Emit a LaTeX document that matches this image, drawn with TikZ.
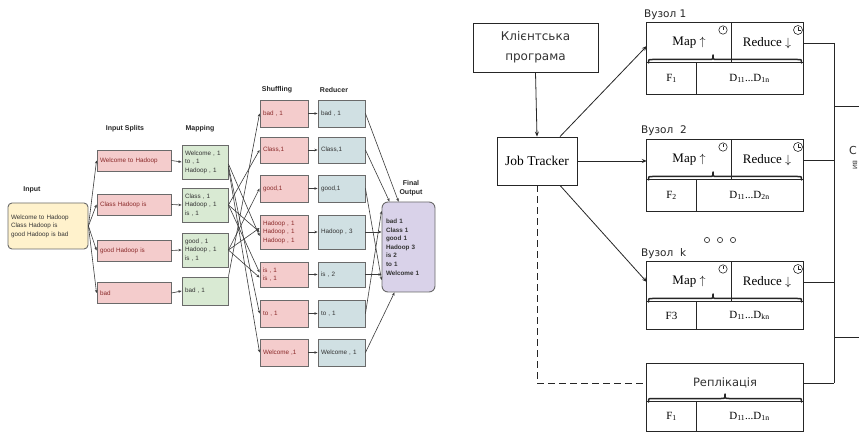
\documentclass[tikz,border=0pt]{standalone}
\usepackage{fontspec}
\setmainfont{Liberation Serif}
\newfontfamily\arialf{Liberation Sans}
\newfontfamily\dvs{DejaVu Sans}
\usetikzlibrary{arrows.meta,calc}

\definecolor{splitfill}{HTML}{F4CCCC}
\definecolor{mapfill}{HTML}{D9EAD3}
\definecolor{redfill}{HTML}{D0E0E3}
\definecolor{infill}{HTML}{FFF2CC}
\definecolor{outfill}{HTML}{D9D2E9}
\definecolor{boxline}{HTML}{6A6A6A}
\definecolor{linegray}{HTML}{3C3C3C}
\definecolor{redtext}{HTML}{8A2A2A}
\definecolor{graytext}{HTML}{333333}

\tikzset{
  lbox/.style={draw=boxline, line width=0.9pt, inner sep=1pt, align=left,
    font=\arialf\fontsize{6.3}{8.6}\selectfont, anchor=center},
  splitbox/.style={lbox, fill=splitfill, text=redtext, minimum width=74pt,
    minimum height=21pt, text width=68pt},
  mapbox/.style={lbox, fill=mapfill, text=graytext, minimum width=46pt,
    text width=40pt},
  shufbox/.style={lbox, fill=splitfill, text=redtext, minimum width=48pt,
    text width=42pt},
  redbox/.style={lbox, fill=redfill, text=graytext, minimum width=47pt,
    text width=41pt},
  steplabel/.style={font=\arialf\bfseries\fontsize{7}{8.5}\selectfont, text=black!85, align=center},
  conn/.style={draw=linegray, line width=0.6pt, -{Stealth[length=3.2pt,width=2.6pt]}},
  rline/.style={draw=black!85, line width=0.8pt},
  rarrow/.style={rline, -{Stealth[length=5pt,width=4pt]}},
  cellt/.style={inner sep=0pt, font=\fontsize{13}{15}\selectfont},
  cellb/.style={inner sep=0pt, font=\fontsize{11}{13}\selectfont},
  nodelabel/.style={font=\dvs\fontsize{10.5}{12}\selectfont, text=black!85, anchor=west, inner sep=0pt},
  bracebar/.style={draw=black!85, line width=1.5pt, line cap=round, line join=round},
}

% curly bracket along the row divider: base y #1, tip x #2
\newcommand{\rowbrace}[2]{%
  \draw[bracebar] (648.5,{#1}) .. controls (648.5,{#1-3.5}) .. (652.5,{#1-3.5})
    -- ({#2-4},{#1-3.5}) .. controls (#2,{#1-3.5}) .. (#2,{#1-8})
    .. controls (#2,{#1-3.5}) .. ({#2+4},{#1-3.5})
    -- (797.5,{#1-3.5}) .. controls (801.5,{#1-3.5}) .. (801.5,{#1});
}

% one worker block: index, top, bottom, F cell text, D cell text
\newcommand{\mrblock}[5]{%
  \node[cellt, minimum width=84pt, minimum height=40pt] (map#1) at (689,{#2+20}) {Map $\uparrow$};
  \node[cellt, minimum width=72pt, minimum height=40pt] (red#1) at (767,{#2+20}) {Reduce $\downarrow$};
  \node[cellb, minimum width=49pt, minimum height={#3-#2-40}] (f#1) at (671.5,{(#2+40+#3)/2}) {#4};
  \node[cellb, minimum width=107pt, minimum height={#3-#2-40}] (d#1) at (749.5,{(#2+40+#3)/2}) {#5};
  \draw[rline] (map#1.north west) rectangle (d#1.south east);
  \draw[rline] (map#1.north east) -- (map#1.south east);
  \draw[rline] (f#1.north west) -- (d#1.north east);
  \draw[rline] (f#1.north east) -- (f#1.south east);
  \rowbrace{#2+40}{713}
  \draw[rline, line width=0.6pt] (723,{#2+7}) circle[radius=4.2];
  \draw[rline, line width=0.6pt] (723,{#2+4.5}) -- (723,{#2+7.5});
  \draw[rline, line width=0.6pt] (798,{#2+7}) circle[radius=4.5];
  \draw[rline, line width=0.6pt] (798,{#2+4}) -- (798,{#2+7}) -- (800.5,{#2+7});
}

\begin{document}
\begin{tikzpicture}[x=1pt,y=-1pt]
\useasboundingbox (0,0) rectangle (859,435);
\fill[white] (0,0) rectangle (859,435);

% ---------------- word count data flow ----------------
\node[steplabel] (lin) at (32,190) {Input};
\node[steplabel] (lsp) at (125,129) {Input Splits};
\node[steplabel] (lmp) at (200,129) {Mapping};
\node[steplabel] (lsh) at (277,90) {Shuffling};
\node[steplabel] (lrd) at (334,90) {Reducer};
\node[steplabel] (lfo) at (411,188) {Final\\Output};

\node[lbox, fill=infill, text=graytext, rounded corners=4pt, minimum width=80pt,
  minimum height=46pt, text width=74pt] (inp) at (48,226)
  {Welcome to Hadoop\\Class Hadoop is\\good Hadoop is bad};

\node[splitbox] (sp1) at (134,160.5) {Welcome to Hadoop};
\node[splitbox] (sp2) at (134,204.5) {Class Hadoop is};
\node[splitbox] (sp3) at (134,250.5) {good Hadoop is};
\node[splitbox] (sp4) at (134,293) {bad};

\node[mapbox, minimum height=34pt] (m1) at (205,162) {Welcome , 1\\to , 1\\Hadoop , 1};
\node[mapbox, minimum height=34pt] (m2) at (205,205) {Class , 1\\Hadoop , 1\\is , 1};
\node[mapbox, minimum height=34pt] (m3) at (205,250) {good , 1\\Hadoop , 1\\is , 1};
\node[mapbox, minimum height=28pt] (m4) at (205,291) {bad , 1};

\node[shufbox, minimum height=27pt] (s1) at (284,113.5) {bad , 1};
\node[shufbox, minimum height=26pt] (s2) at (284,150) {Class,1};
\node[shufbox, minimum height=27pt] (s3) at (284,188.5) {good,1};
\node[shufbox, minimum height=34pt] (s4) at (284,232) {Hadoop , 1\\Hadoop , 1\\Hadoop , 1};
\node[shufbox, minimum height=25pt] (s5) at (284,274.5) {is , 1\\is , 1};
\node[shufbox, minimum height=27pt] (s6) at (284,313.5) {to , 1};
\node[shufbox, minimum height=27pt] (s7) at (284,352.5) {Welcome ,1};

\node[redbox, minimum height=27pt] (r1) at (341.5,113.5) {bad , 1};
\node[redbox, minimum height=26pt] (r2) at (341.5,150) {Class,1};
\node[redbox, minimum height=27pt] (r3) at (341.5,188.5) {good,1};
\node[redbox, minimum height=34pt] (r4) at (341.5,232) {Hadoop , 3};
\node[redbox, minimum height=25pt] (r5) at (341.5,274.5) {is , 2};
\node[redbox, minimum height=27pt] (r6) at (341.5,313.5) {to , 1};
\node[redbox, minimum height=27pt] (r7) at (341.5,352.5) {Welcome , 1};

\node[lbox, fill=outfill, text=graytext, rounded corners=6pt, minimum width=53pt,
  minimum height=90pt, text width=45pt, font=\arialf\bfseries\fontsize{6.3}{8.6}\selectfont]
  (fo) at (408.5,247) {bad 1\\Class 1\\good 1\\Hadoop 3\\is 2\\to 1\\Welcome 1};

% input to splits
\foreach \s in {sp1,sp2,sp3,sp4} \draw[conn] (inp.east) -- (\s.west);
% splits to mapping
\foreach \i in {1,2,3,4} \draw[conn] (sp\i.east) -- (m\i.west);
% mapping to shuffling
\draw[conn] ([yshift=-6pt]m1.east) -- (s7.west);
\draw[conn] ([yshift=-4pt]m1.east) -- (s6.west);
\draw[conn] ([yshift=-2pt]m1.east) -- ([yshift=-4pt]s4.west);
\draw[conn] (m2.east) -- (s2.west);
\draw[conn] (m2.east) -- (s4.west);
\draw[conn] (m2.east) -- ([yshift=2pt]s5.west);
\draw[conn] (m3.east) -- (s3.west);
\draw[conn] (m3.east) -- ([yshift=4pt]s4.west);
\draw[conn] (m3.east) -- ([yshift=-3pt]s5.west);
\draw[conn] (m4.north east) -- (s1.west);
% shuffling to reducer
\foreach \i in {1,...,7} \draw[conn] (s\i.east) -- (r\i.west);
% reducer to final output
\draw[conn] (r1.east) -- ([xshift=-10pt]fo.north);
\draw[conn] (r2.east) -- ([xshift=-19pt]fo.north);
\draw[conn] (r3.east) -- ([yshift=-33pt]fo.west);
\draw[conn] (r4.east) -- (r4.east -| fo.west);
\draw[conn] (r5.east) -- (r5.east -| fo.west);
\draw[conn] (r6.east) -- ([yshift=36pt]fo.west);
\draw[conn] (r7.east) -- ([xshift=-14pt]fo.south);

% ---------------- job tracker and worker nodes ----------------
\node[rline, draw, minimum width=125pt, minimum height=49pt, align=center,
  font=\dvs\fontsize{12}{20}\selectfont, text=black!80] (cli) at (535.5,47.5) {Клієнтська\\програма};
\node[rline, draw, minimum width=80pt, minimum height=48pt,
  font=\fontsize{13.5}{15}\selectfont] (jt) at (537,161) {Job Tracker};

\node[nodelabel] (n1) at (644,15) {Вузол 1};
\node[nodelabel] (n2) at (641,131) {Вузол\ \ 2};
\node[nodelabel] (nk) at (641,254) {Вузол\ \ k};

\mrblock{1}{23}{94}{F\textsubscript{1}}{D\textsubscript{11}...D\textsubscript{1n}}
\mrblock{2}{140}{211}{F\textsubscript{2}}{D\textsubscript{11}...D\textsubscript{2n}}
\mrblock{k}{262}{329}{F3}{D\textsubscript{11}...D\textsubscript{kn}}

% dots between blocks
\foreach \xx in {707,720,733} \draw[rline, line width=0.6pt] (\xx,240) circle[radius=2.6];

% replica block
\node[inner sep=0pt, minimum width=156pt, minimum height=38pt,
  font=\dvs\fontsize{11.5}{13}\selectfont, text=black!80] (rep) at (725,383) {Реплікація};
\node[cellb, minimum width=49pt, minimum height=29pt] (fr) at (671.5,416.5) {F\textsubscript{1}};
\node[cellb, minimum width=107pt, minimum height=29pt] (dr) at (749.5,416.5) {D\textsubscript{11}...D\textsubscript{1n}};
\draw[rline] (rep.north west) rectangle (dr.south east);
\draw[rline] (fr.north west) -- (dr.north east);
\draw[rline] (fr.north east) -- (fr.south east);
\rowbrace{402}{725}

% control flow
\draw[rarrow] (cli.south) -- (jt.north);
\draw[rarrow] ([xshift=23pt]jt.north) -- ([yshift=-3pt]map1.west);
\draw[rarrow] (jt.east) -- (jt.east -| map2.west);
\draw[rarrow] ([xshift=23pt]jt.south) -- (mapk.west);
\draw[rline, dashed, dash pattern=on 7pt off 4pt] (jt.south) |- (rep.west);

% output bus
\coordinate (busT) at (834,43);
\coordinate (busB) at (834,383);
\draw[rline] (busT) -- (busB);
\foreach \c in {red1,red2,redk,rep} \draw[rline] (\c.east) -- (\c.east -| busT);
\coordinate (out1) at (859,106);
\coordinate (out2) at (859,337);
\draw[rline] (out1 -| busT) -- (out1);
\draw[rline] (out2 -| busT) -- (out2);
\node[font=\dvs\fontsize{11}{12}\selectfont, text=black!80, anchor=west, inner sep=0pt] (cut) at (849,150) {С};
\node[font=\dvs\fontsize{8}{9}\selectfont, text=black!70, rotate=-90, anchor=west, inner sep=0pt] (cut2) at (855,160) {ви};
\end{tikzpicture}
\end{document}
